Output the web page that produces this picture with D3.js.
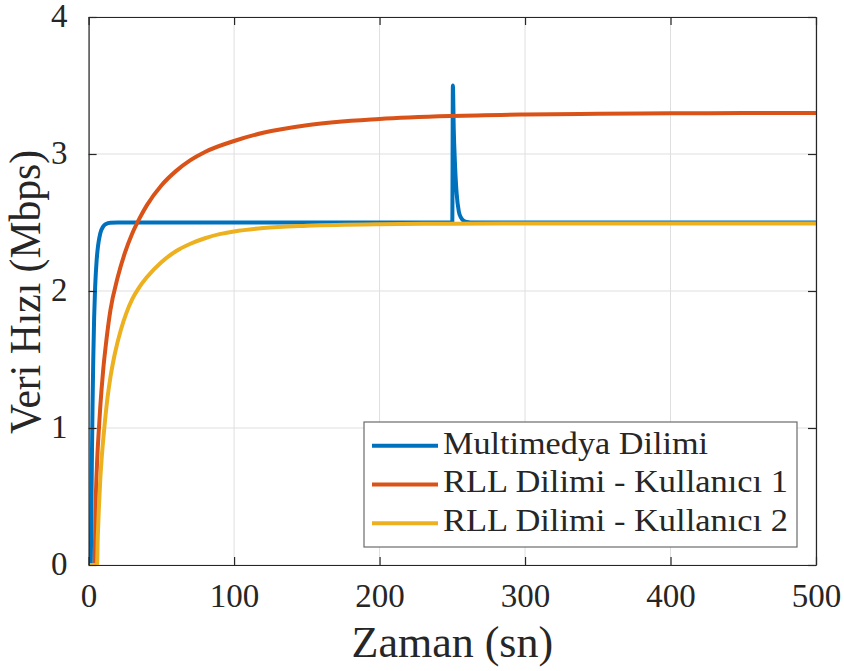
<!DOCTYPE html>
<html>
<head>
<meta charset="utf-8">
<script src="https://cdn.jsdelivr.net/npm/d3@7/dist/d3.min.js"></script>
<style>
  html, body { margin: 0; padding: 0; background: #ffffff; }
  svg { display: block; }
</style>
</head>
<body>
<svg id="chart" width="844" height="671"></svg>
<script>
// Time samples (s) and rates (Mbps) for each slice
const multimediaTime = [1.5, 1.9, 2.3, 2.7, 3.2, 3.8, 4.5, 5.5, 6.5, 8, 10, 12, 15, 20, 60, 150, 249.8,
                        250.0, 250.4, 251.0, 251.8, 253.0, 254.5, 256.0, 258.0, 260.0, 265, 350, 500];
const multimediaRate = [0, 0.4, 0.8, 1.15, 1.5, 1.8, 2.03, 2.22, 2.33, 2.42, 2.47, 2.489, 2.498, 2.5, 2.5, 2.5, 2.5,
                        2.5, 3.5, 3.18, 2.94, 2.71, 2.58, 2.535, 2.512, 2.504, 2.5, 2.5, 2.5];

const user1Time = [4.2, 4.6, 5, 6, 7, 8, 10, 12, 15, 20, 25, 30, 35, 40, 50, 60, 70, 80, 100, 120, 150, 200, 250, 300, 350, 400, 450, 500];
const user1Rate = [0, 0.33, 0.51, 0.79, 0.98, 1.15, 1.42, 1.62, 1.86, 2.1, 2.28, 2.42, 2.53, 2.625, 2.77, 2.875, 2.955, 3.015, 3.095, 3.155, 3.21, 3.255, 3.277, 3.288, 3.294, 3.297, 3.299, 3.30];

const user2Time = [1.0, 5.8, 6.3, 7, 8, 9, 10.8, 13, 15, 18, 22, 26, 30, 35, 40, 50, 60, 70, 80, 90, 100, 120, 150, 200, 250, 300, 400, 500];
const user2Rate = [0, 0, 0.2, 0.4, 0.62, 0.78, 1.0, 1.22, 1.37, 1.54, 1.71, 1.84, 1.94, 2.03, 2.10, 2.21, 2.29, 2.345, 2.385, 2.415, 2.435, 2.46, 2.477, 2.488, 2.491, 2.493, 2.493, 2.493];

const seriesNames = ["Multimedya Dilimi", "RLL Dilimi - Kullanıcı 1", "RLL Dilimi - Kullanıcı 2"];
const seriesColors = ["#0072BD", "#D95319", "#EDB120"];

const xTicks = [0, 100, 200, 300, 400, 500];
const yTicks = [0, 1, 2, 3, 4];
const xLabel = "Zaman (sn)";
const yLabel = "Veri Hızı (Mbps)";

const serifFont = "'Liberation Serif', 'DejaVu Serif', 'Times New Roman', Times, serif";

const svg = d3.select("#chart");
const plotLeft = 88.6, plotRight = 816, plotTop = 17, plotBottom = 565;

const x = d3.scaleLinear().domain([0, 500]).range([plotLeft, plotRight]);
const y = d3.scaleLinear().domain([0, 4]).range([plotBottom, plotTop]);

// Grid
const grid = svg.append("g").attr("stroke", "#dfdfdf").attr("stroke-width", 1);
xTicks.forEach(t => grid.append("line").attr("x1", x(t)).attr("x2", x(t)).attr("y1", plotTop).attr("y2", plotBottom));
yTicks.forEach(t => grid.append("line").attr("x1", plotLeft).attr("x2", plotRight).attr("y1", y(t)).attr("y2", y(t)));

// Curves
svg.append("clipPath").attr("id", "plotArea").append("rect")
  .attr("x", plotLeft).attr("y", plotTop).attr("width", plotRight - plotLeft).attr("height", plotBottom - plotTop);

const series = [
  d3.zip(multimediaTime, multimediaRate),
  d3.zip(user1Time, user1Rate),
  d3.zip(user2Time, user2Rate)
];
const line = d3.line().x(d => x(d[0])).y(d => y(d[1])).curve(d3.curveMonotoneX);

svg.append("g").attr("clip-path", "url(#plotArea)")
  .selectAll("path").data(series).join("path")
  .attr("d", line)
  .attr("fill", "none")
  .attr("stroke", (d, i) => seriesColors[i])
  .attr("stroke-width", 4)
  .attr("stroke-linejoin", "round")
  .attr("stroke-linecap", "round");

// Axes with inward ticks on all four sides
const tickLen = 8;
const axisColor = "#262626";
const fmt = d3.format("d");

const axBottom = svg.append("g").attr("transform", `translate(0,${plotBottom})`)
  .call(d3.axisBottom(x).tickValues(xTicks).tickFormat(fmt).tickSizeInner(-tickLen).tickSizeOuter(0).tickPadding(26));
const axTop = svg.append("g").attr("transform", `translate(0,${plotTop})`)
  .call(d3.axisTop(x).tickValues(xTicks).tickFormat("").tickSizeInner(-tickLen).tickSizeOuter(0));
const axLeft = svg.append("g").attr("transform", `translate(${plotLeft},0)`)
  .call(d3.axisLeft(y).tickValues(yTicks).tickFormat(fmt).tickSizeInner(-tickLen).tickSizeOuter(0).tickPadding(21));
const axRight = svg.append("g").attr("transform", `translate(${plotRight},0)`)
  .call(d3.axisRight(y).tickValues(yTicks).tickFormat("").tickSizeInner(-tickLen).tickSizeOuter(0));

[axBottom, axTop, axLeft, axRight].forEach(a => {
  a.attr("font-family", serifFont);
  a.select(".domain").attr("stroke", axisColor).attr("stroke-width", 1.2);
  a.selectAll(".tick line").attr("stroke", axisColor).attr("stroke-width", 1.2);
  a.selectAll("text").attr("font-size", 33).attr("fill", axisColor)
    .style("font-family", serifFont);
});
axBottom.selectAll(".tick text").attr("dy", "0").attr("y", 42);
axLeft.selectAll(".tick text").attr("dy", "0").attr("y", 9.5);

// Axis titles
svg.append("text").attr("x", (plotLeft + plotRight) / 2).attr("y", 657)
  .attr("text-anchor", "middle").attr("font-size", 44).attr("fill", axisColor)
  .style("font-family", serifFont).text(xLabel);
svg.append("text").attr("transform", `translate(40,292) rotate(-90)`)
  .attr("text-anchor", "middle").attr("font-size", 44).attr("fill", axisColor)
  .style("font-family", serifFont)
  .attr("textLength", 284).attr("lengthAdjust", "spacingAndGlyphs").text(yLabel);

// Legend
const legend = svg.append("g");
legend.append("rect").attr("x", 364).attr("y", 422).attr("width", 433).attr("height", 125)
  .attr("fill", "#ffffff").attr("stroke", "#6b6b6b").attr("stroke-width", 1.2);
const rowY = [445.7, 484.5, 523.3];
const textLens = [265, 345, 345];
seriesNames.forEach((name, i) => {
  legend.append("line").attr("x1", 372).attr("x2", 438).attr("y1", rowY[i]).attr("y2", rowY[i])
    .attr("stroke", seriesColors[i]).attr("stroke-width", 4);
  legend.append("text").attr("x", 443).attr("y", rowY[i] + 7.8)
    .attr("font-size", 32.5).attr("fill", axisColor)
    .style("font-family", serifFont)
    .attr("textLength", textLens[i]).attr("lengthAdjust", "spacingAndGlyphs")
    .text(name);
});
</script>
</body>
</html>
